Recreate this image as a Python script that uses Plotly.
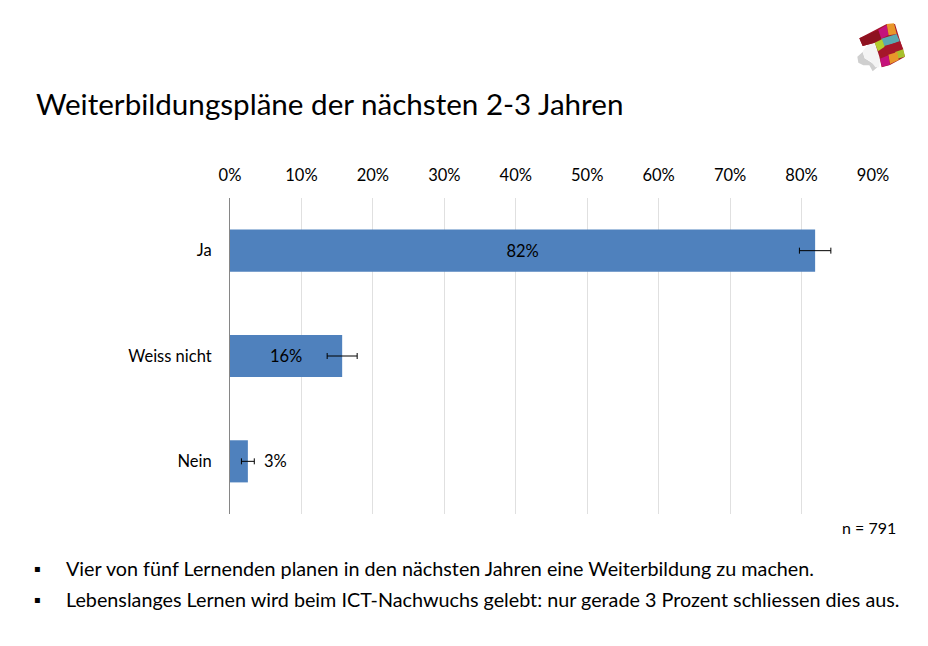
import plotly.graph_objects as go

categories = ["Ja", "Weiss nicht", "Nein"]
values = [81.9, 15.7, 2.5]
errors = [2.2, 2.1, 0.9]
labels = ["82%", "16%", "3%"]
ticks = [0, 10, 20, 30, 40, 50, 60, 70, 80, 90]
tick_labels = ["0%", "10%", "20%", "30%", "40%", "50%", "60%", "70%", "80%", "90%"]

title = "Weiterbildungspläne der nächsten 2-3 Jahren"
note = "n = 791"
bullets = [
    "Vier von fünf Lernenden planen in den nächsten Jahren eine Weiterbildung zu machen.",
    "Lebenslanges Lernen wird beim ICT-Nachwuchs gelebt: nur gerade 3 Prozent schliessen dies aus.",
]

W = 928
H = 646
FONT = "Lato"

# logo pieces, colour + outline as pixels of the zoomed crop
logo = [
    ("#cfcfcf", [(52, 140), (68, 126), (74, 145), (95, 158), (112, 172), (98, 184), (88, 166), (70, 166), (55, 158)]),
    ("#f4f4f4", [(68, 124), (84, 104), (106, 98), (120, 140), (118, 172), (106, 172), (95, 156), (74, 145)]),
    ("#a5172a", [(58, 85), (140, 42), (165, 42), (195, 140), (150, 165), (125, 172), (118, 140), (105, 98), (68, 108)]),
    ("#8e1220", [(58, 85), (115, 60), (124, 86), (104, 98), (68, 108)]),
    ("#c4127c", [(115, 60), (140, 45), (146, 75), (124, 86)]),
    ("#e8962a", [(140, 42), (162, 40), (170, 72), (146, 76)]),
    ("#5aa9b0", [(124, 86), (170, 72), (180, 95), (132, 108)]),
    ("#b3cf2e", [(104, 98), (126, 88), (134, 110), (114, 124)]),
    ("#a5172a", [(134, 110), (180, 93), (190, 118), (140, 134)]),
    ("#a8c02c", [(165, 126), (190, 118), (195, 140), (172, 146)]),
    ("#e8962a", [(145, 134), (172, 126), (176, 150), (150, 162)]),
    ("#c4127c", [(120, 146), (145, 136), (150, 164), (126, 170)]),
]


def px(x, y):
    return x / W, 1 - y / H


fig = go.Figure()

fig.add_trace(go.Bar(
    x=values,
    y=categories,
    orientation="h",
    marker=dict(color="#4f81bd", line=dict(width=0)),
    width=0.4,
    text=[labels[0], labels[1], ""],
    textposition="inside",
    insidetextanchor="middle",
    textangle=0,
    textfont=dict(family=FONT, size=16.5, color="#000000"),
    error_x=dict(type="data", array=errors, visible=True, color="#000000", thickness=1, width=3),
    hoverinfo="skip",
))

fig.update_xaxes(
    range=[0, 90],
    side="top",
    tickvals=ticks,
    ticktext=tick_labels,
    showgrid=True,
    gridcolor="#e0e0e0",
    gridwidth=1.3,
    zeroline=False,
    showline=False,
    ticks="",
    ticklabelstandoff=13,
    domain=[230 / W, 873 / W],
    tickfont=dict(family=FONT, size=16.5, color="#000000"),
)
fig.update_yaxes(
    autorange="reversed",
    showgrid=False,
    zeroline=False,
    showline=True,
    linecolor="#868686",
    linewidth=1,
    ticks="",
    ticklabelstandoff=14,
    domain=[1 - 514 / H, 1 - 198 / H],
    tickfont=dict(family=FONT, size=16.5, color="#000000"),
)

# 3% sits right of its bar, past the error bar
fig.add_annotation(x=values[2], y=categories[2], text=labels[2], xref="x", yref="y",
                   showarrow=False, xanchor="left", xshift=14,
                   font=dict(family=FONT, size=16.5, color="#000000"))

fig.add_annotation(x=34 / W, y=1 - 104 / H, text=title, xref="paper", yref="paper",
                   showarrow=False, xanchor="left", yanchor="middle",
                   font=dict(family=FONT, size=29.6, color="#000000"))
fig.add_annotation(x=898 / W, y=1 - 527 / H, text=note, xref="paper", yref="paper",
                   showarrow=False, xanchor="right", yanchor="middle",
                   font=dict(family=FONT, size=16, color="#000000"))

for text, y in zip(bullets, [568, 599]):
    fig.add_annotation(x=32 / W, y=1 - y / H, text="▪", xref="paper", yref="paper",
                       showarrow=False, xanchor="left", yanchor="middle",
                       font=dict(family="DejaVu Sans", size=10, color="#000000"))
    fig.add_annotation(x=64 / W, y=1 - y / H, text=text, xref="paper", yref="paper",
                       showarrow=False, xanchor="left", yanchor="middle",
                       font=dict(family=FONT, size=19.75, color="#000000"))

for color, points in logo:
    coords = [px(840 + a / 3, 10 + b / 3) for a, b in points]
    path = "M " + " L ".join(f"{a:.5f},{b:.5f}" for a, b in coords) + " Z"
    fig.add_shape(type="path", path=path, xref="paper", yref="paper",
                  fillcolor=color, line=dict(width=0))

fig.update_layout(
    width=W,
    height=H,
    margin=dict(l=0, r=0, t=0, b=0, autoexpand=False),
    paper_bgcolor="#ffffff",
    plot_bgcolor="#ffffff",
    showlegend=False,
    bargap=0.6,
)

fig.write_html("out.html", config={"displayModeBar": False},
               post_script="document.body.style.margin='0';")
